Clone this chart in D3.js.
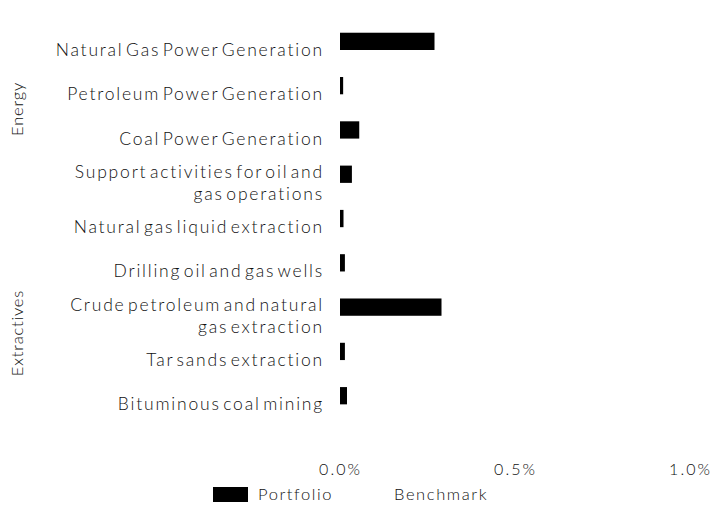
<!DOCTYPE html>
<html>
<head>
<meta charset="utf-8">
<script src="https://cdn.jsdelivr.net/npm/d3@7"></script>
<style>
  body { margin: 0; background: #fff; }
  text { font-family: "Lato", "DejaVu Sans", sans-serif; fill: #111; font-weight: 300; }
</style>
</head>
<body>
<svg width="712" height="508"></svg>
<script>
// data, values in percent
var categories = [
    ["Natural Gas Power Generation"],
    ["Petroleum Power Generation"],
    ["Coal Power Generation"],
    ["Support activities for oil and", "gas operations"],
    ["Natural gas liquid extraction"],
    ["Drilling oil and gas wells"],
    ["Crude petroleum and natural", "gas  extraction"],
    ["Tar sands extraction"],
    ["Bituminous coal mining"]
];
var groups = ["Energy", "Extractives"];
var groupPos = [1.33, 6.39];           // where each group label sits, in category index units
var portfolio = [0.27, 0.009, 0.055, 0.034, 0.01, 0.014, 0.29, 0.014, 0.02];
var benchmark = [0, 0, 0, 0, 0, 0, 0, 0, 0];
var series = ["Portfolio", "Benchmark"];
var seriesColor = ["#000", "#fff"];
var xTicks = [0, 0.5, 1.0];

var svg = d3.select("svg");
var ids = d3.range(categories.length);

var x = d3.scaleLinear().domain([0, 1.0]).range([340, 690]);
var y = d3.scaleBand().domain(ids).range([27.85, 426.5]).paddingInner(0.22).paddingOuter(0.11);
var ySub = d3.scaleBand().domain(series).range([0, y.bandwidth()]);
var yIdx = d3.scaleLinear().domain([0, categories.length - 1])
    .range([y(0) + y.bandwidth() / 2, y(categories.length - 1) + y.bandwidth() / 2]);

// bars
var vals = [portfolio, benchmark];
series.forEach(function(s, k) {
    svg.append("g").attr("fill", seriesColor[k])
        .selectAll("rect")
        .data(ids).enter().append("rect")
        .attr("x", x(0))
        .attr("y", i => y(i) + ySub(s))
        .attr("width", i => x(vals[k][i]) - x(0))
        .attr("height", ySub.bandwidth());
});

// category labels
var lab = svg.append("g").selectAll("text")
    .data(ids).enter().append("text")
    .attr("text-anchor", "end")
    .attr("font-size", 17.5)
    .attr("letter-spacing", 1.8)
    .attr("word-spacing", -4)
    .attr("y", i => y(i) + y.bandwidth() / 2);
lab.each(function(i) {
    var lines = categories[i];
    var t = d3.select(this);
    lines.forEach(function(l, j) {
        t.append("tspan")
            .attr("x", 324)
            .attr("dy", j == 0 ? (6 - (lines.length - 1) * 11) + "px" : "22px")
            .text(l);
    });
});

// group labels
svg.append("g").selectAll("text")
    .data(groups).enter().append("text")
    .attr("text-anchor", "middle")
    .attr("font-size", 16.5)
    .attr("letter-spacing", 0.8)
    .attr("transform", (g, k) => "translate(23," + yIdx(groupPos[k]) + ") rotate(-90)")
    .text(g => g);

// x axis
var xAxis = d3.axisBottom(x).tickValues(xTicks)
    .tickFormat(d => d3.format(".1f")(d) + "%").tickSize(0).tickPadding(0);
var ax = svg.append("g").attr("transform", "translate(0,464)").call(xAxis);
ax.select(".domain").remove();
ax.selectAll("text").attr("font-size", 16).attr("font-family", null)
    .attr("letter-spacing", 2).attr("fill", "#111");

// legend
var leg = svg.append("g").attr("transform", "translate(213,487)")
    .selectAll("g").data(series).enter().append("g")
    .attr("transform", (s, k) => "translate(" + k * 136 + ",0)");
leg.append("rect").attr("width", 35).attr("height", 15)
    .attr("fill", (s, k) => seriesColor[k]);
leg.append("text").attr("x", 45).attr("y", 13).attr("font-size", 16.5)
    .attr("letter-spacing", 1.6)
    .text(s => s);
</script>
</body>
</html>
